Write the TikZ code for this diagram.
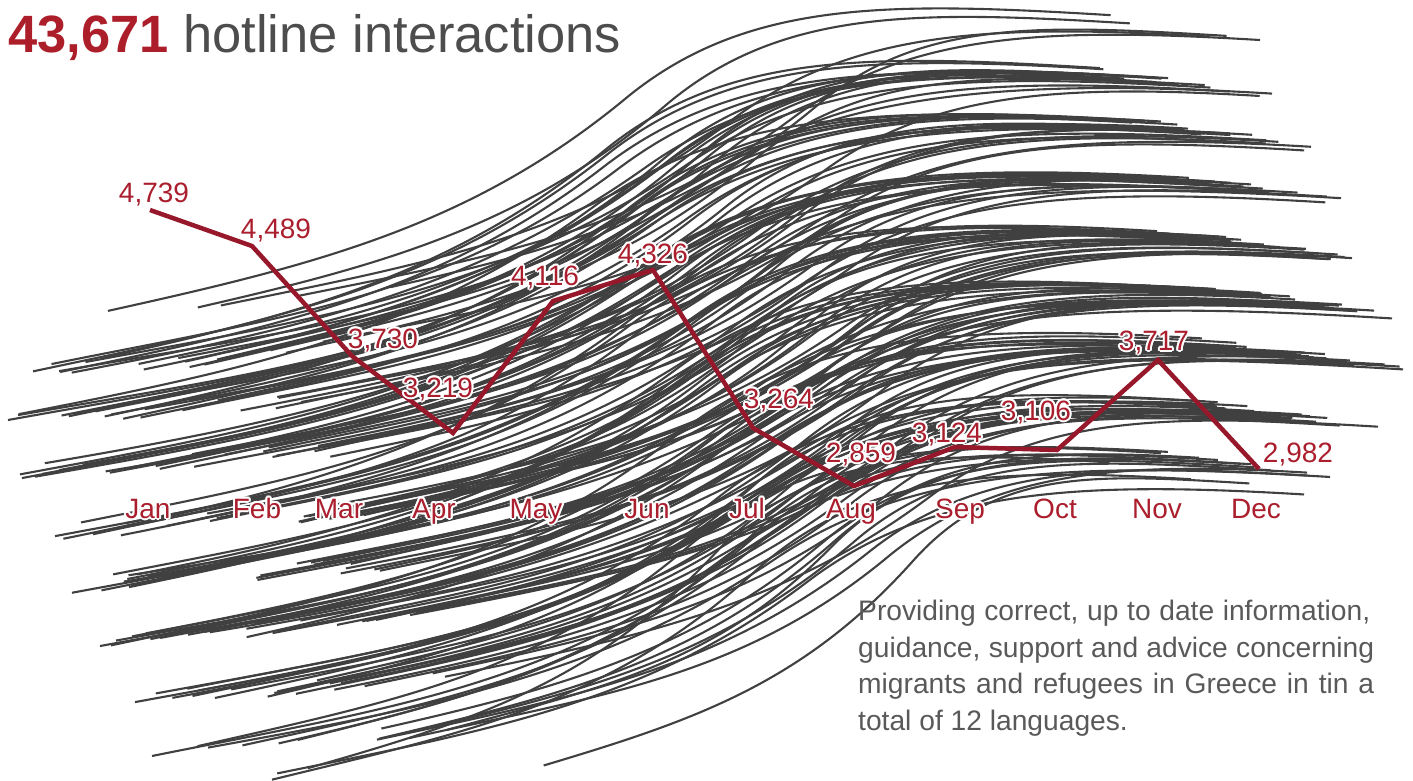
\documentclass[tikz,border=0pt]{standalone}
\usepackage{fontspec}
\setmainfont{Liberation Sans}
\usetikzlibrary{calc}
\definecolor{ttlred}{RGB}{172,30,42}
\definecolor{lblred}{RGB}{170,30,45}
\definecolor{lnred}{RGB}{150,24,42}
\definecolor{ttlgrey}{RGB}{77,77,77}
\definecolor{crv}{RGB}{64,64,64}
\definecolor{txtgrey}{RGB}{89,89,89}
\tikzset{
  crvline/.style={draw=crv, line width=2.1pt},
  redline/.style={draw=lnred, line width=4.5pt, line join=miter},
  lbl/.style={inner sep=0pt, anchor=base, text=lblred, font=\fontsize{28}{30}\selectfont},
  para/.style={inner sep=0pt, anchor=base west, text=txtgrey, font=\fontsize{28.2}{36}\selectfont},
}
\newcommand\halotext[3]{%
  \foreach \hang in {0,30,...,330}{\node[lbl,text=white] (#1h\hang) at ($#2+(\hang:2)$) {#3};}
  \node[lbl] (#1) at #2 {#3};}
\begin{document}
\begin{tikzpicture}[x=1pt,y=-1pt]
\useasboundingbox (0,0) rectangle (1413,780);
\pgfmathsetseed{4242}
% bundle of curves
\foreach \yl/\xmin/\xmax/\yr/\n in {314/108/1260/24/5, 370/33/1272/80/18, 420/8/1311/130/22,
   472/20/1341/184/24, 532/55/1352/242/26, 585/72/1392/298/26, 642/100/1403/352/24,
   700/135/1378/412/20, 752/152/1330/462/12, 778/272/1304/478/4}{
  \foreach \j in {1,...,\n}{
    \pgfmathsetmacro\u{ifthenelse(\j==1,0,rnd)}
    \pgfmathsetmacro\v{ifthenelse(\j==2,0,0.35*(1-\u)+0.65*rnd)}
    \pgfmathsetmacro\xa{\xmin+\u*320}
    \pgfmathsetmacro\ya{\yl+16*rnd-8-0.07*\u*320}
    \pgfmathsetmacro\xd{\xmax-\v*210}
    \pgfmathsetmacro\yd{\yr-14+0.15*(210-\v*210)+8*rnd-4}
    \pgfmathsetmacro\dx{\xd-\xa}
    \pgfmathsetmacro\dy{\ya-\yd}
    \pgfmathsetmacro\fa{0.50+0.04*rnd}
    \pgfmathsetmacro\fb{0.67+0.06*rnd}
    \pgfmathsetmacro\xm{\xa+\fa*\dx}
    \pgfmathsetmacro\ym{\ya-\fb*\dy}
    \pgfmathsetmacro\hA{\fa*\dx}
    \pgfmathsetmacro\hB{(1-\fa)*\dx}
    \pgfmathsetmacro\sm{2.8*\dy/\dx}
    \pgfmathsetmacro\so{0.75*\dy/\dx}
    \pgfmathsetmacro\xb{\xa+0.4*\hA}
    \pgfmathsetmacro\yb{\ya-\so*0.4*\hA}
    \pgfmathsetmacro\xc{\xm-0.3*\hA}
    \pgfmathsetmacro\yc{\ym+\sm*0.3*\hA}
    \pgfmathsetmacro\xe{\xm+0.25*\hB}
    \pgfmathsetmacro\ye{\ym-\sm*0.25*\hB}
    \pgfmathsetmacro\xf{\xd-0.45*\hB}
    \pgfmathsetmacro\yf{\yd-0.06*0.45*\hB}
    \draw[crvline] (\xa,\ya) .. controls (\xb,\yb) and (\xc,\yc) .. (\xm,\ym)
                             .. controls (\xe,\ye) and (\xf,\yf) .. (\xd,\yd);
  }
}
% monthly line
\coordinate (m1) at (150,210);
\coordinate (m2) at (252,246);
\coordinate (m3) at (352,356);
\coordinate (m4) at (453,433);
\coordinate (m5) at (553,301);
\coordinate (m6) at (653,270);
\coordinate (m7) at (753,428);
\coordinate (m8) at (854,486);
\coordinate (m9) at (955,447);
\coordinate (m10) at (1057,450);
\coordinate (m11) at (1158,360);
\coordinate (m12) at (1259,469);
\draw[redline] (m1) -- (m2) -- (m3) -- (m4) -- (m5) -- (m6) -- (m7) -- (m8) -- (m9) -- (m10) -- (m11) -- (m12);
% value labels
\halotext{v1}{(154,202)}{4,739}
\halotext{v2}{(276,238)}{4,489}
\halotext{v3}{(383,348)}{3,730}
\halotext{v4}{(438,397)}{3,219}
\halotext{v5}{(545,285)}{4,116}
\halotext{v6}{(653,263)}{4,326}
\halotext{v7}{(779,408)}{3,264}
\halotext{v8}{(861,462)}{2,859}
\halotext{v9}{(947,442)}{3,124}
\halotext{v10}{(1036,420)}{3,106}
\halotext{v11}{(1154,350)}{3,717}
\halotext{v12}{(1298,462)}{2,982}
% month labels
\halotext{jan}{(148,518)}{Jan}
\halotext{feb}{(257,518)}{Feb}
\halotext{mar}{(339,518)}{Mar}
\halotext{apr}{(434,518)}{Apr}
\halotext{may}{(536,518)}{May}
\halotext{jun}{(647,518)}{Jun}
\halotext{jul}{(747,518)}{Jul}
\halotext{aug}{(851,518)}{Aug}
\halotext{sep}{(960,518)}{Sep}
\halotext{oct}{(1055,518)}{Oct}
\halotext{nov}{(1157,518)}{Nov}
\halotext{dec}{(1256,518)}{Dec}
% title
\node[anchor=base west, inner sep=0pt] (title) at (8,52)
  {\fontsize{52.5}{60}\selectfont\bfseries\color{ttlred}43,671\ \mdseries\color{ttlgrey}hotline interactions};
% paragraph
\node[para] (p1) at (858,620) {\makebox[512pt][s]{Providing correct, up to date information,}};
\node[para] (p2) at (858,657) {\makebox[516pt][s]{guidance, support and advice concerning}};
\node[para] (p3) at (858,693) {\makebox[516pt][s]{migrants and refugees in Greece in tin a}};
\node[para] (p4) at (858,730) {total of 12 languages.};
\end{tikzpicture}
\end{document}
